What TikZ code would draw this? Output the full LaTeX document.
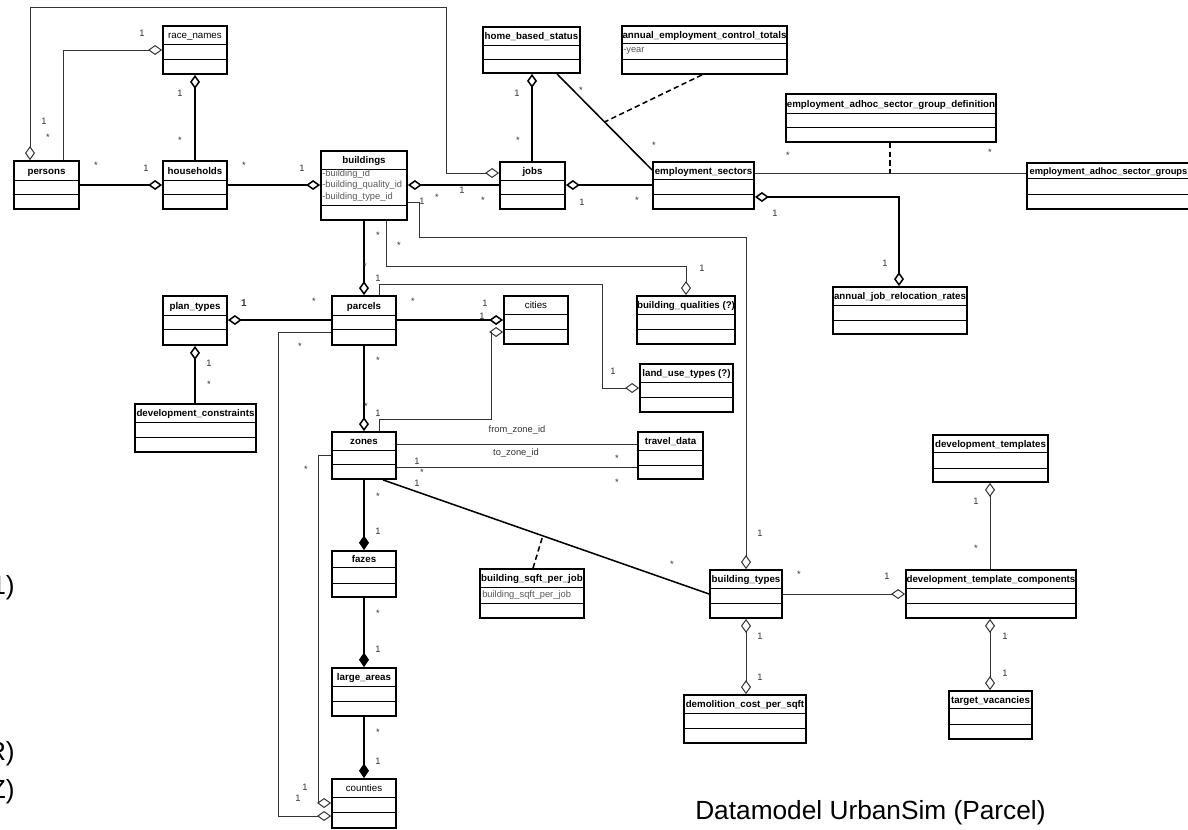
\documentclass[tikz,border=0pt]{standalone}
\usepackage{fontspec}
\setmainfont{Liberation Sans}
\usetikzlibrary{arrows.meta,calc,fit}
\tikzset{
  box/.style={draw, line width=1.35pt, inner sep=0pt},
  sepline/.style={line width=0.7pt},
  ttl/.style={font=\fontsize{7.3}{8}\selectfont\bfseries, inner sep=0pt, anchor=base},
  ttln/.style={font=\fontsize{7.3}{8}\selectfont, inner sep=0pt, anchor=base},
  attr/.style={font=\fontsize{7}{8}\selectfont, text=black!65, inner sep=0pt, anchor=west},
  ml/.style={font=\fontsize{7}{8}\selectfont, text=black!80, inner sep=0pt},
  conn/.style={line width=1.15pt, line join=miter},
  thinc/.style={line width=0.75pt, black!80, line join=miter},
  dsh/.style={dash pattern=on 4pt off 2.5pt},
  aggE/.style={-{Diamond[open,length=10.5pt,width=7.5pt]}},
  aggS/.style={{Diamond[open,length=10.5pt,width=7.5pt]}-},
  aggB/.style={{Diamond[open,length=10.5pt,width=7.5pt]}-{Diamond[open,length=10.5pt,width=7.5pt]}},
  compE/.style={-{Diamond[length=11pt,width=7.5pt]}},
}
% name, x1, y1, x2, y2, yheader, ysep, title style, title
\newcommand\umlclass[9]{%
  \node[box, fit={(#2,#3)(#4,#5)}] (#1) {};
  \draw[sepline] (#1.west |- 0,#6) -- (#1.east |- 0,#6);
  \draw[sepline] (#1.west |- 0,#7) -- (#1.east |- 0,#7);
  \node[#8] (#1-t) at ({(#2+#4)/2},{(#3+#6)/2+3.6}) {#9};
}
\begin{document}
\begin{tikzpicture}[x=0.75pt,y=-0.75pt]
\fill[white] (0,0) rectangle (1188,829);
\useasboundingbox (0,0) rectangle (1188,829);

% classes
\umlclass{persons}{14}{161}{79}{209}{180}{194}{ttl}{persons}
\umlclass{race}{163}{26}{227}{74}{44}{59}{ttln}{race\_names}
\umlclass{households}{163}{161}{227}{209}{180}{194}{ttl}{households}
\umlclass{buildings}{321}{151}{407}{220}{169}{205}{ttl}{buildings}
\umlclass{hbs}{483}{27}{580}{73}{45}{59}{ttl}{home\_based\_status}
\umlclass{jobs}{500}{162}{565}{209}{180}{194}{ttl}{jobs}
\umlclass{aect}{622}{26}{787}{74}{43}{59}{ttl}{annual\_employment\_control\_totals}
\umlclass{es}{653}{162}{754}{209}{179}{194}{ttl}{employment\_sectors}
\umlclass{easgd}{786}{94}{996}{142}{113}{127}{ttl}{employment\_adhoc\_sector\_group\_definition}
\umlclass{easg}{1027}{163}{1190}{209}{178}{194}{ttl,font=\fontsize{7}{8}\selectfont\bfseries}{employment\_adhoc\_sector\_groups}
\umlclass{ajrr}{833}{287}{967}{334}{305}{320}{ttl}{annual\_job\_relocation\_rates}
\umlclass{pt}{163}{296}{227}{345}{315}{329}{ttl}{plan\_types}
\umlclass{parcels}{332}{296}{396}{345}{315}{329}{ttl}{parcels}
\umlclass{cities}{504}{296}{568}{344}{314}{329}{ttln}{cities}
\umlclass{bq}{637}{296}{735}{344}{314}{329}{ttl}{building\_qualities (?)}
\umlclass{lut}{640}{364}{733}{412}{382}{397}{ttl}{land\_use\_types (?)}
\umlclass{dc}{135}{404}{256}{452}{422}{437}{ttl}{development\_constraints}
\umlclass{zones}{332}{432}{396}{479}{450}{464}{ttl}{zones}
\umlclass{td}{638}{432}{703}{479}{450}{465}{ttl}{travel\_data}
\umlclass{fazes}{332}{551}{396}{597}{567}{583}{ttl}{fazes}
\umlclass{large}{332}{668}{396}{716}{686}{701}{ttl}{large\_areas}
\umlclass{counties}{332}{779}{396}{828}{797}{812}{ttln}{counties}
\umlclass{bspj}{480}{569}{584}{618}{587}{603}{ttl}{building\_sqft\_per\_job}
\umlclass{bt}{710}{570}{782}{618}{588}{603}{ttl}{building\_types}
\umlclass{dt}{933}{435}{1048}{482}{452}{468}{ttl}{development\_templates}
\umlclass{dtc}{906}{570}{1076}{618}{588}{603}{ttl}{development\_template\_components}
\umlclass{dcps}{684}{695}{806}{743}{713}{728}{ttl}{demolition\_cost\_per\_sqft}
\umlclass{tv}{949}{691}{1032}{739}{708}{724}{ttl}{target\_vacancies}

% attributes
\node[attr] (ba1) at (322,174) {-building\_id};
\node[attr] (ba2) at (322,185.5) {-building\_quality\_id};
\node[attr] (ba3) at (322,197) {-building\_type\_id};
\node[attr] (aa1) at (623,51) {-year};
\node[attr] (sa1) at (482,595) {building\_sqft\_per\_job};

% helper coordinates (free ends)
\coordinate (kdot) at (890,173);

% connectors
\draw[thinc, aggB] (persons.north -| 30,0) -- (30,7) -- (446,7) -- (446,173) -- (jobs.west |- 0,173);
\draw[thinc, aggE] (persons.north -| 63,0) |- (race.west |- 0,50);
\draw[conn, aggE] (households.north) -- (race.south);
\draw[conn, aggE] (persons.east |- 0,185) -- (households.west |- 0,185);
\draw[conn, aggE] (households.east |- 0,185) -- (buildings.west |- 0,185);
\draw[conn, aggS] (buildings.east |- 0,185) -- (jobs.west |- 0,185);
\draw[conn, aggE] (jobs.north -| 532,0) -- (hbs.south -| 532,0);
\draw[conn] (hbs.south -| 557,0) -- (es.west |- 0,170);
\draw[conn, dsh] (aect.south -| 702,0) -- ($(hbs.south -| 557,0)!0.5!(es.west |- 0,170)$);
\draw[conn, aggS] (jobs.east |- 0,185) -- (es.west |- 0,185);
\draw[thinc] (es.east |- 0,173) -- (easg.west |- 0,173);
\draw[conn, dsh] (easgd.south -| 890,0) -- (kdot);
\draw[conn, aggB] (es.east |- 0,197) -| (ajrr.north -| 899,0);
\draw[conn, aggE] (buildings.south -| 364,0) -- (parcels.north -| 364,0);
\draw[thinc, aggE] (buildings.south -| 386,0) |- (686,266) -- (bq.north -| 686,0);
\draw[thinc, aggE] (buildings.east |- 0,202) -| (419,237) -| (bt.north -| 746,0);
\draw[thinc, aggE] (parcels.north -| 379,0) |- (602,284) |- (lut.west |- 0,388);
\draw[conn, aggS] (pt.east |- 0,320) -- (parcels.west |- 0,320);
\draw[conn, aggE] (dc.north -| 195,0) -- (pt.south -| 195,0);
\draw[conn, aggE] (parcels.east |- 0,320) -- (cities.west |- 0,320);
\draw[thinc, aggE] (zones.north -| 379,0) |- (491,419) |- (cities.west |- 0,332);
\draw[conn, aggE] (parcels.south) -- (zones.north);
\draw[thinc, aggE] (parcels.west |- 0,332) -| (278,816) -- (counties.west |- 0,816);
\draw[thinc, aggE] (zones.west |- 0,455) -| (318,803) -- (counties.west |- 0,803);
\draw[conn, compE] (zones.south) -- (fazes.north);
\draw[conn, compE] (fazes.south) -- (large.north);
\draw[conn, compE] (large.south) -- (counties.north);
\draw[thinc] (zones.east |- 0,444) -- (td.west |- 0,444);
\draw[thinc] (zones.east |- 0,467) -- (td.west |- 0,467);
\draw[conn] (zones.south -| 383,0) -- (bt.west |- 0,594);
\draw[conn, dsh] (bspj.north -| 533,0) -- ($(zones.south -| 383,0)!0.49!(bt.west |- 0,594)$);
\draw[thinc, aggE] (bt.east |- 0,594) -- (dtc.west |- 0,594);
\draw[thinc, aggE] (dtc.north -| 990,0) -- (dt.south -| 990,0);
\draw[thinc, aggB] (bt.south -| 746,0) -- (dcps.north -| 746,0);
\draw[thinc, aggB] (dtc.south -| 990,0) -- (tv.north -| 990,0);

% multiplicities
\foreach \x/\y/\t in {142/33/1, 44/121/1, 48/137/*, 180/93/1, 180/140/*, 96/165/*, 146/168/1, 244/165/*, 302/168/1,
  437/197/*, 462/190/1, 483/200/*, 422/201/1, 517/93/1, 518/140/*, 581/90/*, 654/145/*, 582/202/1, 637/200/*,
  788/155/*, 990/152/*, 775/213/1, 885/263/1,
  378/235/*, 365/266/*, 378/278/1, 399/245/*, 702/268/1, 613/371/1, 760/533/1,
  314/301/*, 209/363/1, 209/384/*, 413/301/*, 485/303/1, 482/316/1, 378/413/1,
  378/360/*, 366/406/*, 300/346/*, 298/798/1, 306/469/*, 305/787/1,
  378/496/*, 378/531/1, 378/613/*, 378/649/1, 378/732/*, 378/761/1,
  417/461/1, 422/472/*, 417/483/1, 617/458/*, 617/482/*, 672/564/*,
  799/574/*, 887/576/1, 976/501/1, 976/548/*, 760/636/1, 760/677/1, 1005/636/1, 1005/673/1}
  \node[ml] at (\x,\y) {\t};
\node[ml, font=\fontsize{7.5}{8}\selectfont\bfseries] (pt1) at (244,303) {1};

% role names
\node[ml] (rfrom) at (517,430) {from\_zone\_id};
\node[ml] (rto) at (516,453) {to\_zone\_id};

% large texts
\node[font=\fontsize{19.7}{22}\selectfont, anchor=base east, inner sep=0pt] (l1) at (15,594) {1)};
\node[font=\fontsize{19.7}{22}\selectfont, anchor=base east, inner sep=0pt] (l2) at (15,760) {R)};
\node[font=\fontsize{19.7}{22}\selectfont, anchor=base east, inner sep=0pt] (l3) at (15,798) {Z)};
\node[font=\fontsize{19.7}{22}\selectfont, anchor=base west, inner sep=0pt] (title) at (695,819) {Datamodel UrbanSim (Parcel)};
\end{tikzpicture}
\end{document}
